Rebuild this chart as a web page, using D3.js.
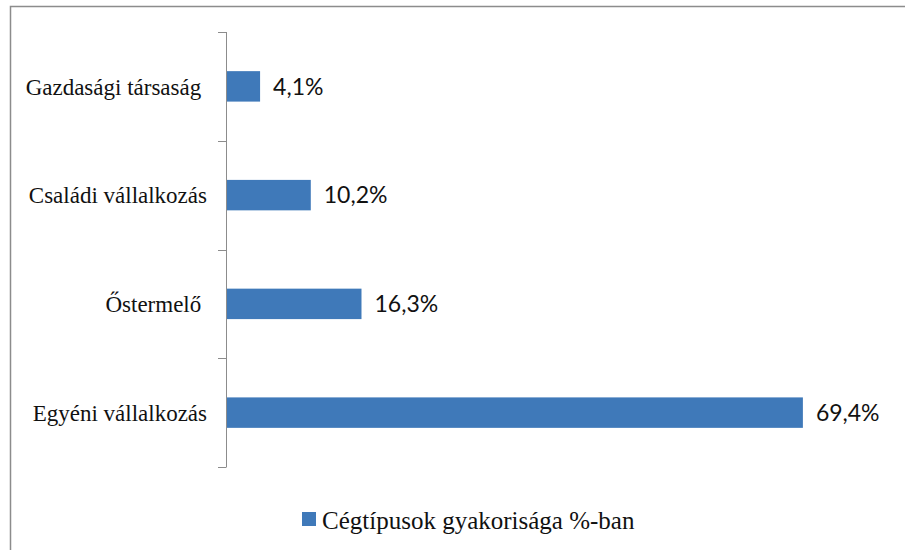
<!DOCTYPE html>
<html>
<head>
<meta charset="utf-8">
<script src="https://cdn.jsdelivr.net/npm/d3@7"></script>
<style>
  body { margin: 0; background: #fff; }
  svg { display: block; }
  text { white-space: pre; }
</style>
</head>
<body>
<div id="chart"></div>
<script>
// Data
const categories = ["Gazdasági társaság ", "Családi vállalkozás", "Őstermelő ", "Egyéni vállalkozás"];
const values = [4.1, 10.2, 16.3, 69.4];
const seriesName = "Cégtípusok gyakorisága %-ban";

const width = 905;
const height = 550;
const barColor = "#3f79b9";

const svg = d3.select("#chart")
              .append("svg")
              .attr("width", width)
              .attr("height", height);

svg.append("rect")
   .attr("width", width)
   .attr("height", height)
   .attr("fill", "#fff");

// Frame (only top and left edges are visible in the source)
svg.append("path")
   .attr("d", `M10.5,${height} V6.5 H${width}`)
   .attr("fill", "none")
   .attr("stroke", "#8c8c8c")
   .attr("stroke-width", 1.5);

const plotLeft = 226;
const plotTop = 32;
const plotBottom = 467;

const xScale = d3.scaleLinear()
                 .domain([0, 80])
                 .range([plotLeft, plotLeft + 665]);

const yScale = d3.scaleBand()
                 .domain(categories)
                 .range([plotTop, plotBottom])
                 .paddingInner(0.72)
                 .paddingOuter(0.36);

// Category axis with tick marks between bands
const axisG = svg.append("g").attr("class", "axis");
axisG.append("line")
     .attr("x1", plotLeft + 0.5).attr("x2", plotLeft + 0.5)
     .attr("y1", plotTop).attr("y2", plotBottom)
     .attr("stroke", "#8c8c8c");

const step = (plotBottom - plotTop) / categories.length;
axisG.selectAll("line.tick")
     .data(d3.range(categories.length + 1))
     .enter()
     .append("line")
     .attr("class", "tick")
     .attr("x1", plotLeft - 8).attr("x2", plotLeft + 0.5)
     .attr("y1", d => Math.round(plotTop + d * step) + 0.5)
     .attr("y2", d => Math.round(plotTop + d * step) + 0.5)
     .attr("stroke", "#8c8c8c");

axisG.selectAll("text")
     .data(categories)
     .enter()
     .append("text")
     .attr("x", 207)
     .attr("y", d => yScale(d) + yScale.bandwidth() / 2)
     .attr("dy", "0.36em")
     .attr("text-anchor", "end")
     .attr("font-family", "'Liberation Serif', 'Times New Roman', serif")
     .attr("font-size", 23)
     .attr("fill", "#111")
     .text(d => d);

// Bars
svg.selectAll("rect.bar")
   .data(values)
   .enter()
   .append("rect")
   .attr("class", "bar")
   .attr("x", xScale(0) + 1)
   .attr("y", (d, i) => yScale(categories[i]))
   .attr("width", d => xScale(d) - xScale(0) - 1)
   .attr("height", yScale.bandwidth())
   .attr("fill", barColor);

// Value labels
svg.selectAll("text.value")
   .data(values)
   .enter()
   .append("text")
   .attr("class", "value")
   .attr("x", d => xScale(d) + 13)
   .attr("y", (d, i) => yScale(categories[i]) + yScale.bandwidth() / 2)
   .attr("dy", "0.36em")
   .attr("font-family", "Lato, 'Open Sans', sans-serif")
   .attr("font-size", 23)
   .attr("fill", "#111")
   .text(d => d.toFixed(1).replace(".", ",") + "%");

// Legend
const legend = svg.append("g").attr("transform", "translate(302,512)");
legend.append("rect")
      .attr("width", 14)
      .attr("height", 14)
      .attr("fill", barColor);
legend.append("text")
      .attr("x", 20)
      .attr("y", 17)
      .attr("font-family", "'Liberation Serif', 'Times New Roman', serif")
      .attr("font-size", 25)
      .attr("fill", "#111")
      .text(seriesName);
</script>
</body>
</html>
